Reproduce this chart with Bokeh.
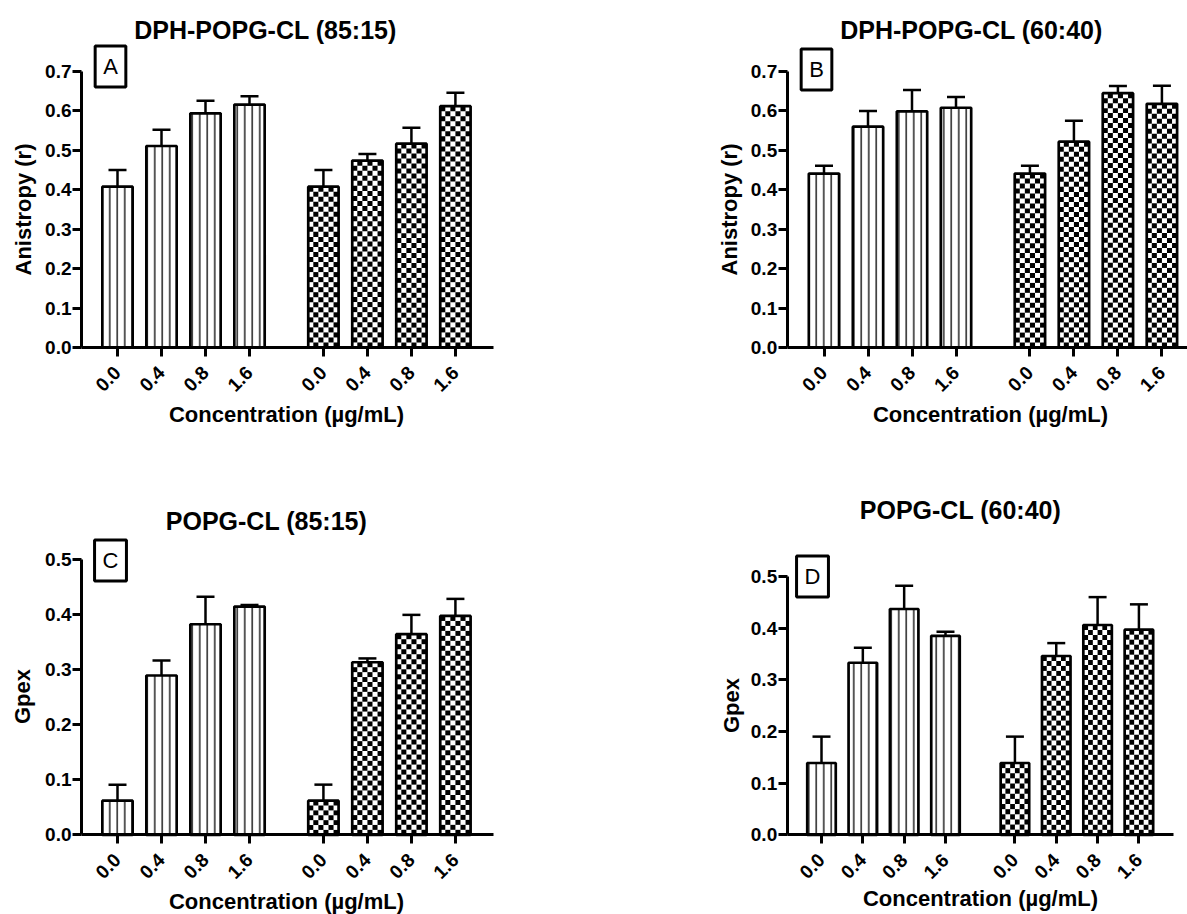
import math
from bokeh.plotting import figure
from bokeh.layouts import column, row
from bokeh.models import (Range1d, FixedTicker, ColumnDataSource, Whisker, TeeHead,
                          Label, PrintfTickFormatter, CustomJSTickFormatter)
from bokeh.embed import file_html
from bokeh.resources import INLINE

# ---------------- data ----------------
conc_labels = ["0.0", "0.4", "0.8", "1.6"]
group1_x = [0.0, 1.0, 2.0, 3.0]
group2_x = [4.68, 5.68, 6.68, 7.68]
x_label = "Concentration (µg/mL)"

# Panel A: DPH-POPG-CL (85:15), anisotropy
A_lines = [0.408, 0.511, 0.594, 0.616]
A_lines_err = [0.042, 0.041, 0.032, 0.021]
A_check = [0.408, 0.474, 0.517, 0.612]
A_check_err = [0.042, 0.017, 0.040, 0.034]

# Panel B: DPH-POPG-CL (60:40), anisotropy
B_lines = [0.441, 0.560, 0.599, 0.608]
B_lines_err = [0.020, 0.040, 0.054, 0.027]
B_check = [0.441, 0.522, 0.645, 0.618]
B_check_err = [0.020, 0.053, 0.018, 0.046]

# Panel C: POPG-CL (85:15), Gpex
C_lines = [0.062, 0.289, 0.382, 0.414]
C_lines_err = [0.029, 0.027, 0.050, 0.003]
C_check = [0.062, 0.313, 0.364, 0.397]
C_check_err = [0.029, 0.007, 0.035, 0.031]

# Panel D: POPG-CL (60:40), Gpex
D_lines = [0.139, 0.333, 0.437, 0.385]
D_lines_err = [0.051, 0.029, 0.045, 0.008]
D_check = [0.139, 0.346, 0.406, 0.397]
D_check_err = [0.051, 0.025, 0.054, 0.049]

anis_ticks = [0.0, 0.1, 0.2, 0.3, 0.4, 0.5, 0.6, 0.7]
gpex_ticks = [0.0, 0.1, 0.2, 0.3, 0.4, 0.5]

FONT = "Liberation Sans"
BAR_W = 0.69
CHECK_COLS = 6
CHECK_PX = 5.0


def make_panel(fig_w, fig_h, x0_px, ppx, axis_px, x_end_px, y0_px, ppy, yticks, ylabel,
               title, t_xy, letter, l_xy, yl_xy, xl_xy, v1, e1, v2, e2):
    """x0_px: pixel of x=0 within figure; ppx: px per x unit; axis_px: y-axis pixel;
    y0_px: pixel (from top) of y=0; ppy: px per y unit."""
    xr = Range1d(-x0_px / ppx, (fig_w - x0_px) / ppx)
    yr = Range1d(-(fig_h - y0_px) / ppy, y0_px / ppy)
    p = figure(width=fig_w, height=fig_h, x_range=xr, y_range=yr,
               output_backend="svg", toolbar_location=None,
               min_border_left=0, min_border_right=0,
               min_border_top=0, min_border_bottom=0)
    p.outline_line_color = None
    p.xgrid.visible = False
    p.ygrid.visible = False
    p.background_fill_color = "white"
    p.border_fill_color = "white"

    x_axis_at = (axis_px - x0_px) / ppx
    x_axis_end = (x_end_px - x0_px) / ppx

    # group 1: vertical-line hatched bars
    p.vbar(x=group1_x, top=v1, width=BAR_W, bottom=0,
           fill_color="white", line_color="black", line_width=2.7,
           hatch_pattern="vertical_line", hatch_color="black",
           hatch_scale=7.5, hatch_weight=1.3)

    # group 2: checkerboard bars (white base, black squares, outline on top)
    p.vbar(x=group2_x, top=v2, width=BAR_W, bottom=0,
           fill_color="white", line_color=None)
    ql, qr, qb, qt = [], [], [], []
    for cx, v in zip(group2_x, v2):
        nrows = max(1, int(round(v * ppy / CHECK_PX)))
        h = v / nrows
        w = BAR_W / CHECK_COLS
        left = cx - BAR_W / 2
        for r in range(nrows):
            for c in range(CHECK_COLS):
                if (r + c) % 2 == 1:
                    ql.append(left + c * w)
                    qr.append(left + (c + 1) * w)
                    qb.append(r * h)
                    qt.append((r + 1) * h)
    p.quad(left=ql, right=qr, bottom=qb, top=qt, fill_color="black", line_color=None)
    p.vbar(x=group2_x, top=v2, width=BAR_W, bottom=0,
           fill_color=None, line_color="black", line_width=2.7)

    xs = group1_x + group2_x
    vals = v1 + v2
    errs = e1 + e2
    src = ColumnDataSource(dict(x=xs, lower=vals,
                                upper=[v + e for v, e in zip(vals, errs)]))
    wk = Whisker(base="x", lower="lower", upper="upper", source=src,
                 dimension="height", line_color="black", line_width=2.5,
                 upper_head=TeeHead(size=18, line_color="black", line_width=2.5),
                 lower_head=None)
    p.add_layout(wk)

    # axes
    for ax in (p.xaxis[0], p.yaxis[0]):
        ax.axis_line_width = 3
        ax.axis_line_color = "black"
        ax.major_tick_line_width = 3
        ax.major_tick_line_color = "black"
        ax.major_tick_out = 9
        ax.major_tick_in = 0
        ax.minor_tick_line_color = None
        ax.major_label_text_font = FONT
        ax.major_label_text_font_style = "bold"
        ax.major_label_text_font_size = "19px"
        ax.major_label_text_color = "black"

    p.yaxis.fixed_location = x_axis_at
    p.yaxis.bounds = (yticks[0], yticks[-1])
    p.yaxis.ticker = FixedTicker(ticks=yticks)
    p.yaxis.formatter = PrintfTickFormatter(format="%.1f")
    p.yaxis.major_label_standoff = 1

    p.xaxis.fixed_location = 0
    p.xaxis.bounds = (x_axis_at, x_axis_end)
    p.xaxis.ticker = FixedTicker(ticks=xs)
    p.xaxis.formatter = CustomJSTickFormatter(args=dict(labels=conc_labels),
                                              code="return labels[index % labels.length];")
    p.xaxis.major_label_orientation = math.pi / 4
    p.xaxis.major_label_standoff = 13

    def lab(xy, text, **kw):
        p.add_layout(Label(x=xy[0], y=xy[1], x_units="screen", y_units="screen", text=text,
                           text_align="center", text_baseline="middle",
                           text_font=FONT, text_color="black", **kw))

    lab(t_xy, title, text_font_style="bold", text_font_size="25px")
    lab(yl_xy, ylabel, text_font_style="bold", text_font_size="22px", angle=math.pi / 2)
    lab(xl_xy, x_label, text_font_style="bold", text_font_size="22px")
    lab(l_xy, letter, text_font_size="22px",
        border_line_color="black", border_line_width=3,
        background_fill_color="white", padding=8)
    return p


# figure A: page (0,0) size 714x440 ; figure B: page (714,0) size 473x440
pA = make_panel(714, 440, 117, 44.0, 81, 493, 347, 394.3, anis_ticks, "Anistropy (r)",
                "DPH-POPG-CL (85:15)", (265, 411), "A", (110, 374), (23, 231), (286, 26),
                A_lines, A_lines_err, A_check, A_check_err)
pB = make_panel(473, 440, 109.5, 44.0, 72.7, 473, 347, 394.3, anis_ticks, "Anistropy (r)",
                "DPH-POPG-CL (60:40)", (257, 411), "B", (102, 371), (15, 231), (276, 26),
                B_lines, B_lines_err, B_check, B_check_err)
# figure C: page (0,440) size 714x474 ; figure D: page (714,440) size 473x474
pC = make_panel(714, 474, 117, 44.0, 81, 493, 394.3, 551.2, gpex_ticks, "Gpex",
                "POPG-CL (85:15)", (266, 394), "C", (110, 354), (22, 218), (286, 13),
                C_lines, C_lines_err, C_check, C_check_err)
pD = make_panel(473, 474, 107, 41.33, 72.7, 458.7, 394.3, 516.7, gpex_ticks, "Gpex",
                "POPG-CL (60:40)", (246, 405), "D", (98, 338), (17, 209), (266, 16),
                D_lines, D_lines_err, D_check, D_check_err)

layout = column(row(pA, pB), row(pC, pD))

with open("out.html", "w") as f:
    f.write(file_html(layout, INLINE))
